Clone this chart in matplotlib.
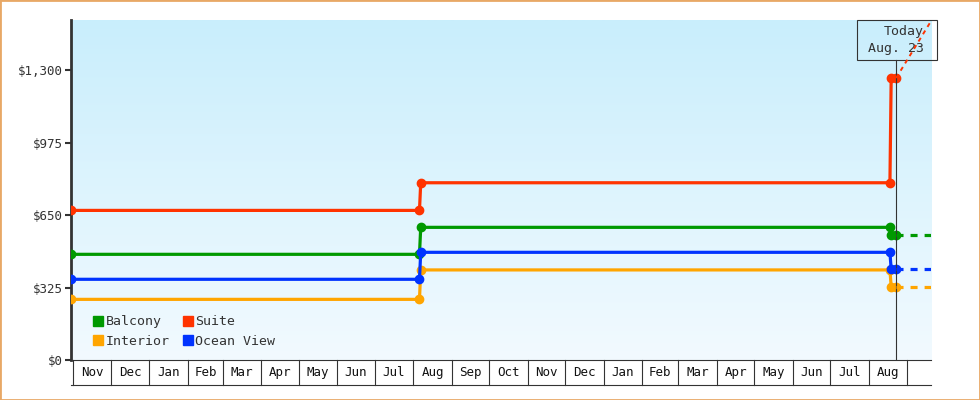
import numpy as np
import matplotlib.pyplot as plt
import matplotlib.dates as mdates
import matplotlib.transforms as mtransforms
from matplotlib.colors import LinearSegmentedColormap
from matplotlib.lines import Line2D
from matplotlib.patches import Rectangle
import pandas as pd

plt.rcParams['font.family'] = ['DejaVu Sans Mono', 'DejaVu Sans']

# price history (one point per change)
dates = pd.to_datetime(['2022-10-30', '2023-08-06', '2023-08-07',
                        '2024-08-18', '2024-08-19', '2024-08-23'])
balcony = [474, 474, 595, 595, 561, 561]
suite = [671, 671, 795, 795, 1265, 1265]
interior = [272, 272, 404, 404, 329, 329]
ocean_view = [362, 362, 483, 483, 407, 407]

# projection after today
fc_dates = pd.to_datetime(['2024-08-23', '2024-10-01'])
balcony_fc = [561, 561]
suite_fc = [1265, 1620]
interior_fc = [329, 329]
ocean_view_fc = [407, 407]

today = pd.Timestamp('2024-08-23')
today_label = 'Today\nAug. 23'

month_starts = pd.to_datetime(['2022-11-01', '2022-12-01', '2023-01-01', '2023-02-01',
                               '2023-03-01', '2023-04-01', '2023-05-01', '2023-06-01',
                               '2023-07-01', '2023-08-01', '2023-09-01', '2023-10-01',
                               '2023-11-01', '2023-12-01', '2024-01-01', '2024-02-01',
                               '2024-03-01', '2024-04-01', '2024-05-01', '2024-06-01',
                               '2024-07-01', '2024-08-01', '2024-09-01'])
month_labels = ['Nov', 'Dec', 'Jan', 'Feb', 'Mar', 'Apr', 'May', 'Jun', 'Jul', 'Aug',
                'Sep', 'Oct', 'Nov', 'Dec', 'Jan', 'Feb', 'Mar', 'Apr', 'May', 'Jun',
                'Jul', 'Aug']

yticks = [0, 325, 650, 975, 1300]
ytick_labels = ['$0', '$325', '$650', '$975', '$1,300']

colors = {'Balcony': '#009900', 'Interior': '#ffa500',
          'Ocean View': '#0033ff', 'Suite': '#ff3300'}
series = [
    ('Balcony', balcony, balcony_fc),
    ('Interior', interior, interior_fc),
    ('Ocean View', ocean_view, ocean_view_fc),
    ('Suite', suite, suite_fc),
]
# ncol=2 fills columns first -> rows read Balcony/Suite, Interior/Ocean View
legend_order = ['Balcony', 'Interior', 'Suite', 'Ocean View']

fig = plt.figure(figsize=(9.8, 4), dpi=100)
fig.patch.set_facecolor('white')
ax = fig.add_axes([71 / 980, 40 / 400, 860 / 980, 340 / 400])

# background gradient
cmap = LinearSegmentedColormap.from_list('bg', ['#f2faff', '#c9eefc'])
grad = np.linspace(0, 1, 256).reshape(-1, 1)
ax.imshow(grad, extent=[0, 1, 0, 1], transform=ax.transAxes, aspect='auto',
          cmap=cmap, origin='lower', zorder=0)

for name, vals, fc in series:
    col = colors[name]
    ax.plot(dates, vals, color=col, lw=2.3, marker='o', markersize=6,
            solid_capstyle='butt', zorder=3)
    lw = 1.4 if name == 'Suite' else 2.3
    ax.plot(fc_dates, fc, color=col, lw=lw, linestyle=(0, (2.2, 2.2)), zorder=5)

x0 = mdates.date2num(pd.Timestamp('2022-10-30'))
x1 = mdates.date2num(pd.Timestamp('2024-09-20'))
ax.set_xlim(x0, x1)
ax.set_ylim(0, 1525)

# today marker
blend = mtransforms.blended_transform_factory(ax.transData, ax.transAxes)
tnum = mdates.date2num(today)
box_bottom = 1 - 40 / 340
ax.plot([tnum, tnum], [0, box_bottom], transform=blend, color='#333333', lw=0.8, zorder=4)
ax.add_patch(Rectangle((tnum - 31.5, box_bottom), 64, 40 / 340, transform=blend,
                       fill=False, edgecolor='#333333', lw=0.8, clip_on=False, zorder=4))
ax.text(tnum, 1 - 20 / 340, today_label, transform=blend, ha='center', va='center',
        multialignment='right', fontsize=9.5, color='#333333', linespacing=1.35, zorder=4)

# month boxes under the axis
box_h = 25 / 340
for d in month_starts:
    ax.plot([d, d], [0, -box_h], transform=blend, color='#333333', lw=0.8, clip_on=False)
ax.plot([0, 1], [-box_h, -box_h], transform=ax.transAxes, color='#333333', lw=0.8,
        clip_on=False)
for i, lab in enumerate(month_labels):
    mid = month_starts[i] + (month_starts[i + 1] - month_starts[i]) / 2
    ax.text(mid, -box_h / 2, lab, transform=blend, ha='center', va='center',
            fontsize=9, color='#111111')

ax.set_xticks([])
ax.set_yticks(yticks)
ax.set_yticklabels(ytick_labels, fontsize=9, color='#333333')
ax.tick_params(axis='y', length=4, width=1.5, color='#333333', pad=2)
for s in ['top', 'right']:
    ax.spines[s].set_visible(False)
ax.spines['left'].set_linewidth(2)
ax.spines['left'].set_color('#333333')
ax.spines['bottom'].set_linewidth(0.8)
ax.spines['bottom'].set_color('#333333')

handles = [Line2D([], [], marker='s', ls='none', color=colors[n], markersize=7.5)
           for n in legend_order]
ax.legend(handles, legend_order, ncol=2, loc='lower left', bbox_to_anchor=(0.0255, 0.036),
          frameon=False, handlelength=0.8, handletextpad=0.15, columnspacing=1.0,
          labelspacing=0.5, fontsize=9.5, borderaxespad=0, borderpad=0,
          labelcolor='#333333')

fig.patches.append(Rectangle((0, 0), 1, 1, transform=fig.transFigure, fill=False,
                             edgecolor='#e8a866', lw=2))

fig.savefig('out.png', dpi=100)
